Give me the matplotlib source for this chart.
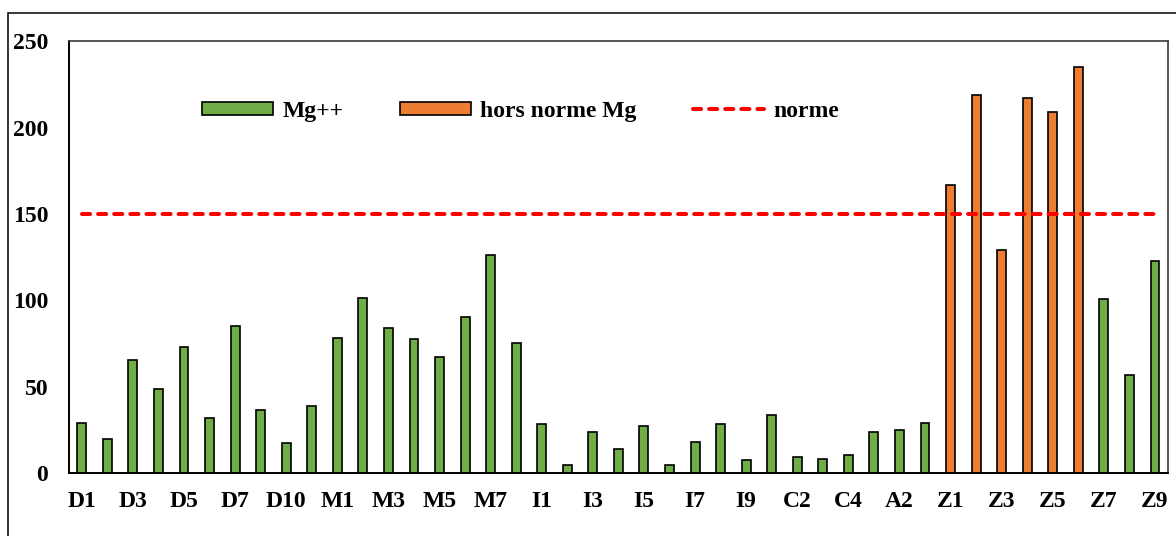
import matplotlib.pyplot as plt
import numpy as np
from matplotlib.patches import Rectangle

# Mg++ concentration per sampling point
stations = ['D1', 'D2', 'D3', 'D4', 'D5', 'D6', 'D7', 'D8', 'D10', 'D11',
            'M1', 'M2', 'M3', 'M4', 'M5', 'M6', 'M7', 'M8',
            'I1', 'I2', 'I3', 'I4', 'I5', 'I6', 'I7', 'I8', 'I9',
            'C1', 'C2', 'C3', 'C4', 'A1', 'A2', 'A3',
            'Z1', 'Z2', 'Z3', 'Z4', 'Z5', 'Z6', 'Z7', 'Z8', 'Z9']
mg = [29, 19.5, 65.5, 48.7, 73, 31.7, 85, 36.3, 17.4, 38.6,
      78.4, 101.2, 84.3, 77.8, 67.4, 90.4, 126.1, 75.1,
      28.6, 4.8, 23.8, 13.9, 27, 4.8, 18, 28.6, 7.7,
      33.6, 9.5, 8.1, 10.2, 23.9, 24.9, 28.8,
      166.7, 219.2, 129, 217.3, 209.2, 235, 100.8, 57, 123]
# stations flagged out of standard
hors_norme = ['Z1', 'Z2', 'Z3', 'Z4', 'Z5', 'Z6']
norme = 150

plt.rcParams['font.family'] = 'Liberation Serif'
plt.rcParams['font.weight'] = 'bold'

x = np.arange(len(stations))
mg = np.array(mg, dtype=float)
out = np.array([s in hors_norme for s in stations])

fig = plt.figure(figsize=(11.76, 5.36), dpi=100)
ax = fig.add_axes([0.0587, 0.1175, 0.9343, 0.8051])

b1 = ax.bar(x[~out], mg[~out], width=0.35, color='#70AD47', edgecolor='black',
            linewidth=1.2, label='Mg++')
b2 = ax.bar(x[out], mg[out], width=0.35, color='#ED7D31', edgecolor='black',
            linewidth=1.2, label='hors norme Mg')
l1, = ax.plot(x, [norme] * len(x), color='#FF0000', lw=2.9, dashes=(2.0, 2.0),
              dash_capstyle='round', label='norme')

ax.set_xlim(-0.5, len(x) - 0.5)
ax.set_ylim(0, 250)
ax.set_yticks(range(0, 251, 50))
ax.set_xticks(x)
ax.set_xticklabels([s if i % 2 == 0 else '' for i, s in enumerate(stations)])
ax.tick_params(axis='x', length=0, pad=13, labelsize=17)
ax.tick_params(axis='y', length=0, pad=15, labelsize=17)

for side in ['left', 'bottom']:
    ax.spines[side].set_color('black')
    ax.spines[side].set_linewidth(1.4)
for side in ['top', 'right']:
    ax.spines[side].set_color('#3a3a3a')
    ax.spines[side].set_linewidth(1.2)

ax.legend(handles=[b1, b2, l1], loc='center', bbox_to_anchor=(0.411, 0.838),
          ncol=3, frameon=False, fontsize=17, handlelength=3.0, handleheight=0.5,
          handletextpad=0.4, columnspacing=2.4)

# outer chart frame
fig.patches.append(Rectangle((0.0068, -0.02), 1.1, 0.9957, transform=fig.transFigure,
                             fill=False, edgecolor='black', linewidth=1.1))

fig.savefig('out.png', dpi=100)
